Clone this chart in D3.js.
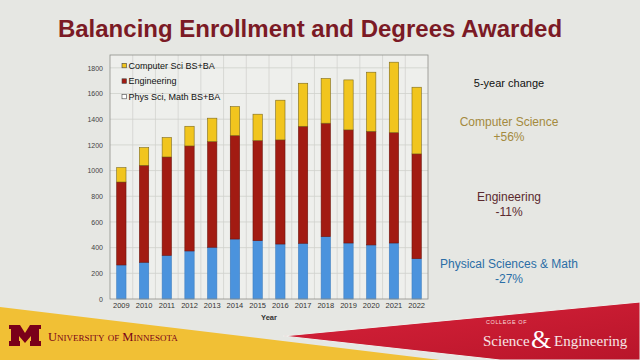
<!DOCTYPE html>
<html>
<head>
<meta charset="utf-8">
<script src="https://cdn.jsdelivr.net/npm/d3@7"></script>
<style>
  body { margin: 0; background: #e6e7e3; }
  svg { display: block; font-family: "Liberation Sans", Arial, sans-serif; }
</style>
</head>
<body>
<div id="chart"></div>
<script>
// Data
const years = ["2009", "2010", "2011", "2012", "2013", "2014", "2015", "2016", "2017", "2018", "2019", "2020", "2021", "2022"];
const physSci = [265, 286, 340, 374, 403, 467, 454, 428, 434, 486, 436, 421, 436, 314];
const engineering = [646, 755, 766, 818, 823, 806, 780, 811, 911, 883, 881, 885, 860, 816];
const compSci = [112, 138, 151, 153, 182, 225, 205, 309, 335, 348, 389, 460, 548, 519];
const yTicks = [0, 200, 400, 600, 800, 1000, 1200, 1400, 1600, 1800];
const seriesNames = ["Phys Sci, Math BS+BA", "Engineering", "Computer Sci BS+BA"];
const legendOrder = ["Computer Sci BS+BA", "Engineering", "Phys Sci, Math BS+BA"];
const changes = [
  { label: "Computer Science", value: "+56%", color: "#a48a3e" },
  { label: "Engineering", value: "-11%", color: "#5b2a2f" },
  { label: "Physical Sciences & Math", value: "-27%", color: "#2b6ea6" }
];

const colors = { "Phys Sci, Math BS+BA": "#4b93dd", "Engineering": "#a21b12", "Computer Sci BS+BA": "#f1c51e" };
const strokes = { "Phys Sci, Math BS+BA": "#3f7fc0", "Engineering": "#6e140d", "Computer Sci BS+BA": "#7d6a1a" };

const W = 640, H = 360;
const margin = { left: 110, right: 212, top: 55, bottom: 61 };

const svg = d3.select("#chart").append("svg")
  .attr("width", W)
  .attr("height", H);

svg.append("rect").attr("width", W).attr("height", H).attr("fill", "#e6e7e3");

// footer decoration
const defs = svg.append("defs");
const grad = defs.append("linearGradient").attr("id", "redg")
  .attr("x1", "0%").attr("y1", "0%").attr("x2", "100%").attr("y2", "100%");
grad.append("stop").attr("offset", "0%").attr("stop-color", "#d8223a");
grad.append("stop").attr("offset", "100%").attr("stop-color", "#b8152a");

svg.append("polygon")
  .attr("points", "0,307 440,360 0,360")
  .attr("fill", "#f1c035");
svg.append("polygon")
  .attr("points", "283,336 640,302 640,360 500,360")
  .attr("fill", "url(#redg)")
  .attr("stroke", "#eef0ec")
  .attr("stroke-width", 1);

// block M logo
svg.append("path")
  .attr("d", "M9,325 L20,325 L25,333 L30,325 L41,325 L41,329 L39,329 L39,341 L41,341 L41,346 L30,346 L30,341 L31,341 L31,336 L25,343 L19,336 L19,341 L20,341 L20,346 L9,346 L9,341 L11,341 L11,329 L9,329 Z")
  .attr("fill", "#7a0019");

svg.append("text")
  .attr("x", 48).attr("y", 341)
  .attr("font-family", "'Liberation Serif', 'DejaVu Serif', serif")
  .attr("font-size", 12.5)
  .attr("font-variant", "small-caps")
  .attr("fill", "#7a0019")
  .text("University of Minnesota");

svg.append("text")
  .attr("x", 486).attr("y", 324)
  .attr("font-size", 5.5)
  .attr("letter-spacing", 0.6)
  .attr("fill", "#f7dcdc")
  .text("COLLEGE OF");
svg.append("text")
  .attr("x", 483).attr("y", 346)
  .attr("font-family", "'Liberation Serif', 'DejaVu Serif', serif")
  .attr("font-size", 15)
  .attr("fill", "#f7e6e6")
  .text("Science");
svg.append("text")
  .attr("x", 531).attr("y", 348)
  .attr("font-family", "'Liberation Serif', 'DejaVu Serif', serif")
  .attr("font-size", 26)
  .attr("fill", "#ffffff")
  .text("&");
svg.append("text")
  .attr("x", 554).attr("y", 346)
  .attr("font-family", "'Liberation Serif', 'DejaVu Serif', serif")
  .attr("font-size", 15)
  .attr("fill", "#f7e6e6")
  .text("Engineering");

// title
svg.append("text")
  .attr("x", 310).attr("y", 37)
  .attr("text-anchor", "middle")
  .attr("font-size", 24)
  .attr("font-weight", "bold")
  .attr("fill", "#7b1a25")
  .text("Balancing Enrollment and Degrees Awarded");

// chart
const x = d3.scaleBand()
  .domain(years)
  .range([margin.left, W - margin.right])
  .paddingInner(0.59)
  .paddingOuter(0.295);

const y = d3.scaleLinear()
  .domain([0, 1900])
  .range([H - margin.bottom, margin.top]);

const plotX0 = margin.left, plotX1 = W - margin.right;
const plotY0 = margin.top, plotY1 = H - margin.bottom;

svg.append("rect")
  .attr("x", plotX0).attr("y", plotY0)
  .attr("width", plotX1 - plotX0).attr("height", plotY1 - plotY0)
  .attr("fill", "#eeefec");

// grid
const step = x.step();
svg.append("g").selectAll("line.v")
  .data(years.slice(1))
  .join("line")
  .attr("x1", d => x(d) - (step - x.bandwidth()) / 2)
  .attr("x2", d => x(d) - (step - x.bandwidth()) / 2)
  .attr("y1", plotY0).attr("y2", plotY1)
  .attr("stroke", "#d2d3cf").attr("stroke-width", 0.8);

svg.append("g").selectAll("line.h")
  .data(yTicks.slice(1))
  .join("line")
  .attr("x1", plotX0).attr("x2", plotX1)
  .attr("y1", d => y(d)).attr("y2", d => y(d))
  .attr("stroke", "#cfd0cc").attr("stroke-width", 0.8);

// stacked bars
const rows = years.map((yr, i) => ({
  year: yr,
  "Phys Sci, Math BS+BA": physSci[i],
  "Engineering": engineering[i],
  "Computer Sci BS+BA": compSci[i]
}));
const stack = d3.stack().keys(seriesNames)(rows);

svg.append("g").selectAll("g")
  .data(stack)
  .join("g")
  .attr("fill", d => colors[d.key])
  .attr("stroke", d => strokes[d.key])
  .attr("stroke-width", 0.6)
  .selectAll("rect")
  .data(d => d)
  .join("rect")
  .attr("x", d => x(d.data.year))
  .attr("width", x.bandwidth())
  .attr("y", d => y(d[1]))
  .attr("height", d => y(d[0]) - y(d[1]));

// plot border
svg.append("rect")
  .attr("x", plotX0).attr("y", plotY0)
  .attr("width", plotX1 - plotX0).attr("height", plotY1 - plotY0)
  .attr("fill", "none")
  .attr("stroke", "#8e8f8b").attr("stroke-width", 0.8);

// axes
const yAxis = svg.append("g")
  .attr("transform", `translate(${plotX0},0)`)
  .call(d3.axisLeft(y).tickValues(yTicks).tickFormat(d3.format("d")).tickSize(0).tickPadding(7));
yAxis.select(".domain").remove();
yAxis.selectAll("text").attr("font-size", 7).attr("fill", "#444").attr("font-family", "'Liberation Sans', Arial, sans-serif");

const xAxis = svg.append("g")
  .attr("transform", `translate(0,${plotY1})`)
  .call(d3.axisBottom(x).tickSize(0).tickPadding(4));
xAxis.select(".domain").remove();
xAxis.selectAll("text").attr("font-size", 7.5).attr("fill", "#333").attr("font-family", "'Liberation Sans', Arial, sans-serif");

svg.append("text")
  .attr("x", (plotX0 + plotX1) / 2).attr("y", 320)
  .attr("text-anchor", "middle")
  .attr("font-size", 7.5)
  .attr("font-weight", "bold")
  .attr("fill", "#333")
  .text("Year");

// legend
const legend = svg.append("g").selectAll("g")
  .data(legendOrder)
  .join("g")
  .attr("transform", (d, i) => `translate(122,${65.5 + i * 15.5})`);
legend.append("rect")
  .attr("x", 0).attr("y", -2.2)
  .attr("width", 4.5).attr("height", 4.5)
  .attr("fill", d => d === "Phys Sci, Math BS+BA" ? "#ffffff" : colors[d])
  .attr("stroke", "#444").attr("stroke-width", 0.6);
legend.append("text")
  .attr("x", 6.5).attr("y", 3.3)
  .attr("font-size", 9)
  .attr("fill", "#111")
  .text(d => d);

// right-hand annotations
svg.append("text")
  .attr("x", 509).attr("y", 87)
  .attr("text-anchor", "middle")
  .attr("font-size", 11)
  .attr("fill", "#111")
  .text("5-year change");

const ann = svg.append("g").selectAll("g")
  .data(changes)
  .join("g")
  .attr("transform", (d, i) => `translate(509,${[126, 201, 268][i]})`);
ann.append("text")
  .attr("text-anchor", "middle")
  .attr("font-size", 12)
  .attr("fill", d => d.color)
  .text(d => d.label);
ann.append("text")
  .attr("y", 15)
  .attr("text-anchor", "middle")
  .attr("font-size", 12)
  .attr("fill", d => d.color)
  .text(d => d.value);
</script>
</body>
</html>
